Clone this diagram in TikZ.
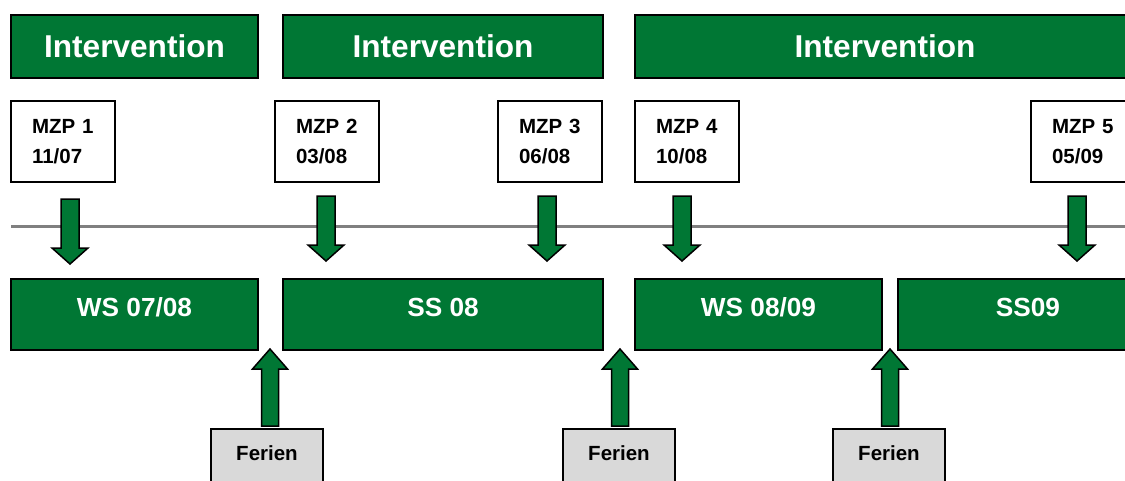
\documentclass[tikz,border=0pt]{standalone}
\usepackage{fontspec}
\setmainfont{Liberation Sans}
\definecolor{dgreen}{RGB}{0,119,52}
\definecolor{lgray}{RGB}{217,217,217}
\definecolor{tline}{RGB}{128,128,128}
\begin{document}
\begin{tikzpicture}[x=1pt,y=-1pt,
  greenbox/.style={draw=black,line width=1.5pt,fill=dgreen,text=white,font=\bfseries,inner sep=0pt},
  intbox/.style={greenbox,minimum height=63pt,font=\fontsize{31.6}{36}\selectfont\bfseries,text height=23pt,text depth=2pt},
  sembox/.style={greenbox,minimum height=71pt,font=\fontsize{26.2}{30}\selectfont\bfseries,text height=19pt,text depth=16pt},
  mzpbox/.style={draw=black,line width=1.5pt,fill=white,minimum width=104pt,minimum height=81pt,inner xsep=21pt,inner ysep=0pt,text width=62pt,align=left,font=\fontsize{20.5}{30}\selectfont\bfseries},
  ferbox/.style={draw=black,line width=1.5pt,fill=lgray,minimum width=112pt,minimum height=62pt,inner sep=0pt,text height=14pt,text depth=14pt,font=\fontsize{20.5}{24}\selectfont\bfseries},
  blockarrow/.style={draw=black,line width=1.5pt,fill=dgreen,line join=miter},
  downarrow/.pic={\draw[blockarrow] (-9,0) -- (9,0) -- (9,49) -- (18,49) -- (0,65) -- (-18,49) -- (-9,49) -- cycle;},
  uparrow/.pic={\draw[blockarrow] (0,0) -- (17.5,20) -- (8.5,20) -- (8.5,77) -- (-8.5,77) -- (-8.5,20) -- (-17.5,20) -- cycle;}
]
\useasboundingbox (0,0) rectangle (1125,480);
\clip (0,0) rectangle (1125,480);
\fill[white] (0,0) rectangle (1125,480);

% intervention bars
\node[intbox,minimum width=247pt] (int1) at (134.5,46.5) {Intervention};
\node[intbox,minimum width=320pt] (int2) at (443,46.5) {Intervention};
\node[intbox,minimum width=500pt] (int3) at (885,46.5) {Intervention};

% MZP boxes
\node[mzpbox] (mzp1) at (63,141.5) {MZP 1\\11/07};
\node[mzpbox] (mzp2) at (327,141.5) {MZP 2\\03/08};
\node[mzpbox] (mzp3) at (550,141.5) {MZP 3\\06/08};
\node[mzpbox] (mzp4) at (687,141.5) {MZP 4\\10/08};
\node[mzpbox] (mzp5) at (1083,141.5) {MZP 5\\05/09};

% time line
\coordinate (tl0) at (11,226);
\coordinate (tl1) at (1130,226);
\draw[tline,line width=3pt] (tl0) -- (tl1);

% down arrows
\pic at (70,199) {downarrow};
\pic at (326,196) {downarrow};
\pic at (547,196) {downarrow};
\pic at (682,196) {downarrow};
\pic at (1077,196) {downarrow};

% semester boxes
\node[sembox,minimum width=247pt] (sem1) at (134.5,314.5) {WS 07/08};
\node[sembox,minimum width=320pt] (sem2) at (443,314.5) {SS 08};
\node[sembox,minimum width=247pt] (sem3) at (758.5,314.5) {WS 08/09};
\node[sembox,minimum width=260pt] (sem4) at (1028,314.5) {SS09};

% up arrows
\pic at (270,349) {uparrow};
\pic at (620,349) {uparrow};
\pic at (890,349) {uparrow};

% Ferien boxes
\node[ferbox] (fer1) at (267,460) {Ferien};
\node[ferbox] (fer2) at (619,460) {Ferien};
\node[ferbox] (fer3) at (889,460) {Ferien};
\end{tikzpicture}
\end{document}
